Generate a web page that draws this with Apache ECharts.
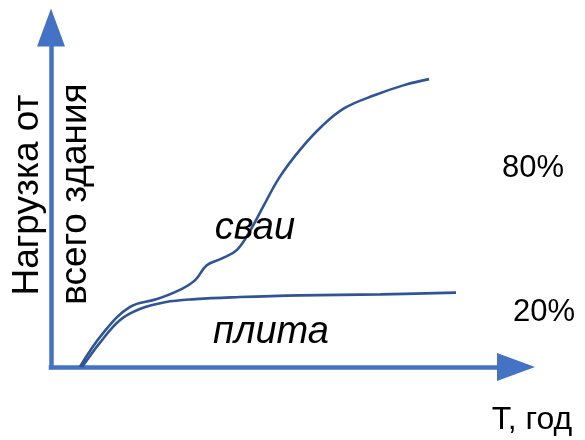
<!DOCTYPE html>
<html>
<head>
<meta charset="utf-8">
<script src="https://cdn.jsdelivr.net/npm/echarts@6/dist/echarts.min.js"></script>
<style>
html,body{margin:0;padding:0;background:#fff;}
#chart{width:585px;height:440px;}
</style>
</head>
<body>
<div id="chart"></div>
<script>
// Time (arbitrary units, 0..100 along the T axis) and load (% of the axis height)
var tSvai    = [6.2, 11.2, 17.0, 22.8, 27.7, 31.0, 33.5, 36.8, 40.0, 42.8, 45.8, 49.2, 53.5, 58.3, 63.2, 69.7, 76.1, 81.3];
var loadSvai = [0,   10.0, 17.7, 20.0, 22.7, 25.6, 30.0, 32.0, 34.5, 40.1, 47.7, 56.0, 63.9, 71.0, 76.3, 80.1, 83.1, 84.8];
var tPlita    = [6.7, 10.5, 14.8, 19.1, 24.5, 31.0, 40.6, 53.5, 70.8, 87.1];
var loadPlita = [0,   7.1,  13.8, 17.1, 19.1, 20.0, 20.6, 21.1, 21.4, 21.9];

var yTitleLines = ['Нагрузка от', 'всего здания'];
var curveLabels = ['сваи', 'плита'];
var shareLabels = ['80%', '20%'];
var xTitle = 'T, год';

function pairs(xs, ys) { return xs.map(function (x, i) { return [x, ys[i]]; }); }

var FONT = '"Liberation Sans", Arial, sans-serif';
var AXIS_COLOR = '#4472C4';
var CURVE_COLOR = '#2F5597';

function txt(s, x, y, size, opts) {
  opts = opts || {};
  return {
    type: 'text', x: x, y: y, rotation: opts.rotation || 0, z: 100,
    style: {
      text: s, fill: '#000', font: (opts.italic ? 'italic ' : '') + size + 'px ' + FONT,
      textAlign: 'center', textVerticalAlign: 'middle'
    }
  };
}

var chart = echarts.init(document.getElementById('chart'), null, {renderer: 'canvas'});
chart.setOption({
  animation: false,
  backgroundColor: '#fff',
  grid: {left: 51, top: 27.5, width: 465, height: 339.5, containLabel: false},
  xAxis: {
    type: 'value', min: 0, max: 100,
    axisLine: {show: true, onZero: false, symbol: ['none', 'triangle'], symbolSize: [28, 38],
      lineStyle: {color: AXIS_COLOR, width: 4.5, cap: 'square'}},
    axisTick: {show: false}, axisLabel: {show: false}, splitLine: {show: false}
  },
  yAxis: {
    type: 'value', min: 0, max: 100,
    axisLine: {show: true, onZero: false, symbol: ['none', 'triangle'], symbolSize: [28, 38],
      lineStyle: {color: AXIS_COLOR, width: 4.5, cap: 'square'}},
    axisTick: {show: false}, axisLabel: {show: false}, splitLine: {show: false}
  },
  series: [
    {type: 'line', name: curveLabels[0], data: pairs(tSvai, loadSvai), smooth: 0.4, showSymbol: false,
      lineStyle: {color: CURVE_COLOR, width: 2.6}},
    {type: 'line', name: curveLabels[1], data: pairs(tPlita, loadPlita), smooth: 0.4, showSymbol: false,
      lineStyle: {color: CURVE_COLOR, width: 2.6}}
  ],
  graphic: [
    txt(yTitleLines[0], 28, 195, 37, {rotation: Math.PI / 2}),
    txt(yTitleLines[1], 76, 194, 37, {rotation: Math.PI / 2}),
    txt(curveLabels[0], 255, 228, 38, {italic: true}),
    txt(curveLabels[1], 271, 332, 38, {italic: true}),
    txt(shareLabels[0], 533, 168, 31),
    txt(shareLabels[1], 544, 312, 31),
    txt(xTitle, 532, 420, 32)
  ]
});
</script>
</body>
</html>
